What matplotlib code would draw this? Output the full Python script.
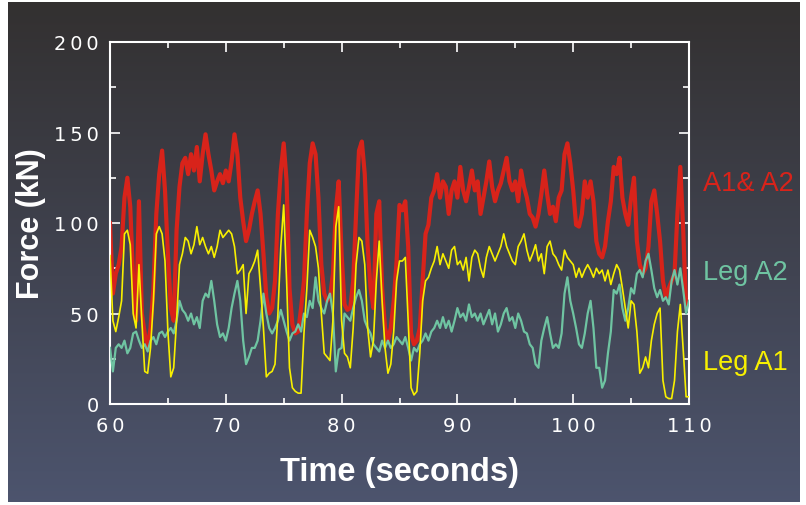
import matplotlib
matplotlib.use("Agg")
import matplotlib.pyplot as plt
import numpy as np

# time axis: 60 s to 110 s, one sample every 0.25 s
t_start, t_step = 60.0, 0.25

# A1 & A2 combined force (kN)
force_a1a2 = [
    100, 61, 72, 77, 87, 114, 125, 109, 68, 46, 112, 50, 39, 31, 42, 64,
    105, 127, 140, 118, 83, 53, 46, 96, 120, 133, 136, 127, 138, 129, 142, 123,
    138, 149, 138, 129, 118, 123, 127, 122, 129, 123, 134, 149, 138, 114, 101, 90,
    96, 105, 112, 118, 105, 83, 59, 50, 53, 68, 105, 129, 144, 123, 64, 44,
    39, 40, 53, 68, 105, 133, 144, 138, 114, 77, 61, 57, 59, 72, 107, 123,
    83, 55, 52, 53, 68, 105, 140, 145, 127, 87, 64, 53, 105, 112, 64, 42,
    35, 42, 57, 79, 110, 107, 112, 87, 39, 33, 35, 42, 68, 94, 99, 114,
    118, 127, 114, 123, 120, 105, 118, 123, 114, 131, 118, 112, 120, 129, 118, 123,
    105, 114, 123, 134, 120, 112, 118, 122, 129, 136, 123, 118, 123, 112, 129, 120,
    114, 105, 103, 98, 105, 116, 129, 116, 105, 109, 101, 114, 118, 138, 144, 133,
    118, 99, 98, 105, 123, 114, 123, 112, 90, 83, 81, 87, 101, 112, 131, 127,
    136, 114, 105, 99, 114, 125, 90, 77, 72, 75, 87, 112, 118, 105, 90, 68,
    59, 64, 68, 72, 105, 131, 96, 53, 57,
]

# Leg A2 force (kN)
force_a2 = [
    31, 18, 31, 33, 31, 35, 28, 31, 39, 40, 35, 31, 33, 29, 35, 37,
    33, 39, 40, 37, 40, 42, 39, 46, 57, 52, 50, 46, 50, 44, 48, 42,
    57, 61, 59, 68, 57, 44, 37, 39, 35, 42, 53, 61, 68, 57, 35, 22,
    26, 31, 31, 35, 46, 61, 50, 42, 39, 42, 46, 52, 46, 40, 35, 39,
    40, 44, 40, 50, 48, 57, 53, 70, 57, 53, 50, 57, 61, 50, 18, 30,
    31, 50, 48, 46, 53, 59, 63, 57, 46, 42, 39, 33, 31, 29, 35, 31,
    35, 31, 33, 37, 35, 33, 37, 31, 24, 31, 29, 33, 35, 39, 35, 40,
    42, 46, 42, 48, 42, 46, 40, 46, 53, 48, 50, 46, 55, 48, 50, 46,
    50, 44, 48, 52, 44, 50, 40, 44, 50, 53, 46, 48, 42, 50, 46, 40,
    39, 33, 31, 22, 20, 35, 42, 48, 39, 31, 33, 31, 39, 61, 70, 57,
    50, 42, 33, 31, 39, 50, 57, 42, 20, 20, 9, 13, 28, 40, 63, 61,
    66, 53, 46, 53, 64, 61, 72, 74, 70, 79, 83, 74, 64, 59, 63, 57,
    59, 55, 68, 74, 66, 75, 63, 50, 57,
]

# Leg A1 force (kN)
force_a1 = [
    82, 46, 40, 48, 57, 94, 96, 88, 50, 42, 77, 46, 18, 17, 31, 57,
    94, 98, 94, 79, 40, 15, 20, 46, 77, 83, 92, 90, 83, 88, 98, 88,
    92, 87, 83, 87, 81, 87, 96, 92, 94, 96, 94, 87, 72, 74, 77, 50,
    72, 75, 79, 85, 64, 42, 15, 17, 18, 22, 50, 87, 110, 68, 20, 9,
    7, 6, 6, 39, 64, 96, 92, 87, 75, 50, 28, 26, 24, 46, 98, 109,
    46, 28, 26, 20, 42, 77, 92, 90, 77, 42, 26, 35, 68, 90, 57, 31,
    17, 22, 40, 68, 79, 79, 81, 46, 9, 5, 7, 28, 57, 68, 70, 75,
    79, 87, 77, 83, 79, 75, 85, 87, 77, 79, 74, 81, 68, 81, 85, 83,
    75, 70, 81, 87, 83, 79, 83, 87, 94, 87, 83, 79, 77, 87, 90, 94,
    85, 79, 83, 88, 79, 83, 72, 87, 90, 83, 81, 77, 74, 85, 81, 79,
    77, 70, 75, 70, 74, 77, 74, 70, 75, 72, 74, 68, 74, 66, 72, 77,
    74, 64, 53, 42, 57, 55, 40, 17, 20, 26, 20, 35, 44, 50, 53, 13,
    4, 3, 3, 13, 40, 55, 30, 4, 4,
]

labels = ["A1& A2", "Leg A2", "Leg A1"]
label_values = [122, 73, 23]

x_ticks = [60, 70, 80, 90, 100, 110]
y_ticks = [0, 50, 100, 150, 200]

RED = "#d8231a"
GREEN = "#6fc4a2"
YELLOW = "#f8f000"
THIN = "\u2009"


def spaced(v):
    # the original tick labels are loosely tracked
    return THIN.join(str(v))


t = t_start + t_step * np.arange(len(force_a1a2))

fig = plt.figure(figsize=(8.06, 5.06), dpi=100)
fig.patch.set_facecolor("white")

# dark gradient backdrop
bg = fig.add_axes([8 / 806, 3 / 506, 792 / 806, 500 / 506])
top_col = np.array([0.20, 0.19, 0.19])
bot_col = np.array([0.30, 0.33, 0.43])
frac = np.linspace(0, 1, 256)[:, None]
grad = top_col[None, :] * (1 - frac) + bot_col[None, :] * frac
bg.imshow(grad[:, None, :], aspect="auto", extent=[0, 1, 0, 1])
bg.set_axis_off()

ax = fig.add_axes([110 / 806, 101 / 506, 579 / 806, 362 / 506])
ax.patch.set_alpha(0)
ax.plot(t, force_a1a2, color=RED, lw=3.0, zorder=2)
ax.plot(t, force_a2, color=GREEN, lw=1.6, zorder=3)
ax.plot(t, force_a1, color=YELLOW, lw=1.2, zorder=4)

ax.set_xlim(60, 110)
ax.set_ylim(0, 200)
ax.set_xticks(x_ticks)
ax.set_xticklabels([spaced(v) for v in x_ticks])
ax.set_xticks(np.arange(65, 110, 10), minor=True)
ax.set_yticks(y_ticks)
ax.set_yticklabels([spaced(v) for v in y_ticks])
ax.set_yticks(np.arange(25, 200, 50), minor=True)
for s in ax.spines.values():
    s.set_color("white")
    s.set_linewidth(1.5)
ax.tick_params(which="both", direction="in", colors="white", top=True, right=True,
               width=1.2, labelsize=14)
ax.tick_params(axis="x", pad=9)
ax.tick_params(axis="y", pad=8)
ax.tick_params(which="major", length=7)
ax.tick_params(which="minor", length=4)

ax.set_xlabel("Time (seconds)", color="white", fontsize=23.5, fontweight="bold",
              fontfamily="Liberation Sans", labelpad=15)
ax.set_ylabel("Force (kN)", color="white", fontsize=22, fontweight="bold",
              fontfamily="Liberation Sans")
ax.yaxis.set_label_coords(-0.11, 0.5)

for text, val, col in zip(labels, label_values, [RED, GREEN, YELLOW]):
    ax.text(1.025, val, text, color=col, fontsize=19.5, fontfamily="Liberation Sans",
            transform=ax.get_yaxis_transform(), va="center", ha="left", clip_on=False)

fig.savefig("out.png", dpi=100)
